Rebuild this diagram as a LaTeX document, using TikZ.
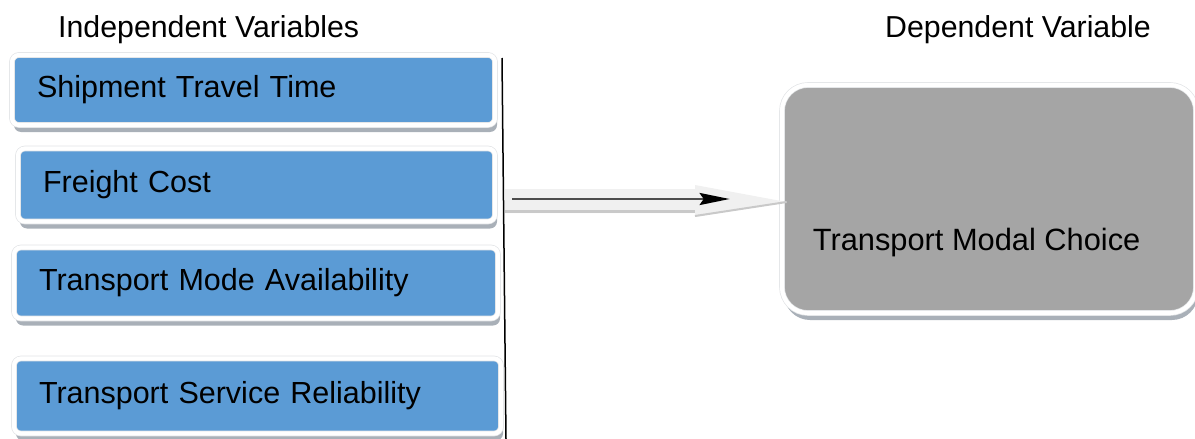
\documentclass[tikz,border=0pt]{standalone}
\usepackage{fontspec}
\setmainfont{Liberation Sans}
\usetikzlibrary{arrows.meta,shadows}

\definecolor{ivblue}{HTML}{5B9BD5}
\definecolor{dvgray}{HTML}{A5A5A5}
\definecolor{rimgray}{HTML}{E2E4E6}
\definecolor{shadegray}{HTML}{A9B0B8}
\definecolor{palearrow}{HTML}{F0F0F0}
\definecolor{paleedge}{HTML}{C9C9C9}

\tikzset{
  heading/.style={font=\fontsize{30.3}{36}\selectfont, anchor=base west, inner sep=0pt},
  rimbox/.style={rectangle, draw=rimgray, double=white, line width=0.7pt,
    double distance=4.2pt,
    drop shadow={shadow xshift=2pt, shadow yshift=-7pt, fill=shadegray, opacity=1}},
  ivbox/.style={rimbox, rounded corners=7pt, fill=ivblue,
    font=\fontsize{30.5}{34}\selectfont, align=left,
    inner xsep=25pt, inner ysep=0pt},
  dvbox/.style={rimbox, rounded corners=26pt, fill=dvgray},
  dvtext/.style={font=\fontsize{30.8}{34}\selectfont, anchor=base west, inner sep=0pt},
  link/.style={draw=black!70, line width=2.5pt,
    -{Stealth[length=30pt, width=12pt, inset=4pt, color=black, fill=black]}},
}

\begin{document}
\begin{tikzpicture}[x=1pt, y=-1pt]
  \useasboundingbox (0,0) rectangle (1195,439);

  % column headings
  \node[heading] (ivhead) at (58,37) {Independent Variables};
  \node[heading] (dvhead) at (885,37) {Dependent Variable};

  % independent variables
  \node[ivbox, text width=433pt, minimum height=70pt] (iv1) at (253.5,90)
    {Shipment Travel Time};
  \node[ivbox, text width=427pt, minimum height=73pt] (iv2) at (256.5,185)
    {Freight Cost};
  \node[ivbox, text width=434pt, minimum height=71pt] (iv3) at (256,283)
    {Transport Mode Availability};
  \node[ivbox, text width=437pt, minimum height=75pt] (iv4) at (257.5,396)
    {Transport Service Reliability};

  % bracket line collecting the variables
  \coordinate (bartop) at (502,58);
  \coordinate (barbot) at (506,439);
  \draw[black, line width=1.5pt] (bartop) -- (barbot);

  % dependent variable
  \node[dvbox, minimum width=414pt, minimum height=228pt] (dv) at (989,199) {};
  \node[dvtext] (dvlabel) at ([xshift=31pt, yshift=-51pt]dv.west)
    {Transport Modal Choice};

  % pale block arrow behind the link
  \coordinate (src) at (512,199);
  \coordinate (tip) at ([xshift=-52pt]dv.west);
  \fill[palearrow] (505,189) -- (695,189) -- (695,185) -- ([xshift=5pt, yshift=-3pt]dv.west)
    -- (695,217) -- (695,213) -- (505,213) -- cycle;
  \draw[paleedge, line width=3pt] (505,211.5) -- (695,211.5);
  \draw[paleedge, line width=2pt] (695,216) -- ([xshift=5pt, yshift=-3pt]dv.west);

  % link from the variables to the choice
  \draw[link] (src) -- (tip);
\end{tikzpicture}
\end{document}
